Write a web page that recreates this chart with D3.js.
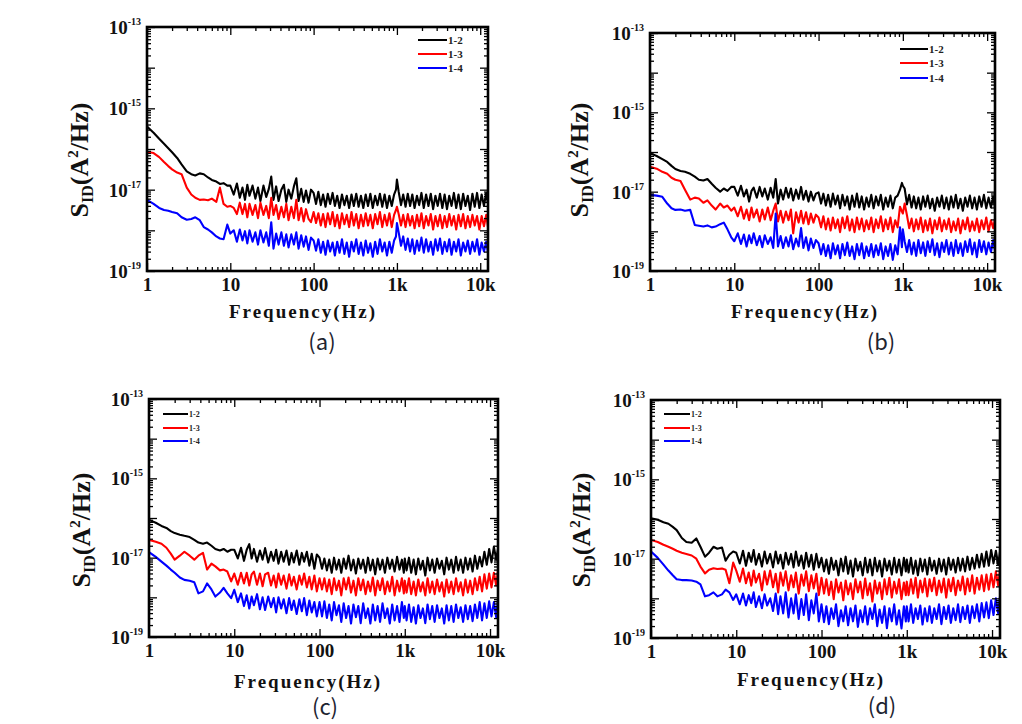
<!DOCTYPE html>
<html><head><meta charset="utf-8">
<script src="https://cdn.jsdelivr.net/npm/d3@7"></script>
<style>body{margin:0;background:#fff} svg{display:block}</style>
</head><body>
<svg id="chart" width="1022" height="724"></svg>
<script>
// ---------- DATA (values are log10 of S_ID in A^2/Hz) ----------
const freq = [1,1.2,1.4,1.6,1.8,2,2.3,2.6,3,3.4,3.8,4.3,4.8,5.4,6,6.8,7.5,8.3,9.2,
 10,11,12,13,14,15,16,17,18.5,20,21.5,23,25,27,29,31,33,35.5,38,41,44,47,50,54,58,62,66,71,76,81,87,93,
 100,107,114,122,130,139,148,158,169,180,192,205,219,234,250,267,285,304,325,347,370,395,422,450,480,513,548,585,625,667,712,760,812,867,925,975,
 1000,1050,1120,1190,1270,1350,1440,1530,1630,1740,1850,1970,2100,2240,2390,2550,2720,2900,3090,3290,3510,3740,3990,4250,4530,4830,5150,5490,5850,6240,6650,7090,7560,8060,8590,9160,9770,10400,11100,11800,12400];

const seriesNames = ["1-2","1-3","1-4"];
const seriesColors = ["#000000","#ff0000","#0000ff"];
const xTickValues = [1,10,100,1000,10000];
const xTickLabels = ["1","10","100","1k","10k"];
const yTickExponents = [-13,-15,-17,-19];
const panelLabels = ["(a)","(b)","(c)","(d)"];
const xTitle = "Frequency(Hz)";

// panel (a)
const a12 = [-15.45,-15.6,-15.75,-15.87,-15.98,-16.08,-16.22,-16.38,-16.55,-16.62,-16.65,-16.6,-16.62,-16.7,-16.76,-16.8,-16.86,-16.84,-16.9,
 -16.9,-17.12,-16.85,-17.2,-16.95,-17.25,-16.88,-17.15,-16.9,-17.22,-16.95,-17.28,-16.9,-17.18,-16.98,-16.68,-17.25,-16.92,-17.28,-17.0,-16.88,-17.3,-17.0,-17.22,-16.92,-16.72,-17.28,-16.98,-17.3,-17.02,-17.32,-17.0,
 -17.08,-17.35,-17.05,-17.38,-17.12,-17.42,-17.1,-17.35,-17.08,-17.4,-17.15,-17.45,-17.12,-17.38,-17.15,-17.45,-17.12,-17.4,-17.1,-17.42,-17.15,-17.45,-17.12,-17.4,-17.1,-17.45,-17.15,-17.38,-17.1,-17.42,-17.12,-17.45,-17.15,-17.4,-17.12,-17.0,
 -16.75,-17.05,-17.38,-17.12,-17.42,-17.1,-17.4,-17.12,-17.45,-17.15,-17.38,-17.08,-17.45,-17.12,-17.4,-17.1,-17.48,-17.15,-17.4,-17.1,-17.45,-17.12,-17.48,-17.15,-17.4,-17.08,-17.45,-17.12,-17.48,-17.1,-17.4,-17.15,-17.5,-17.1,-17.42,-17.08,-17.45,-17.12,-17.4,-17.08,-17.35];
const a13 = [-16.07,-16.1,-16.2,-16.32,-16.42,-16.5,-16.58,-16.62,-16.95,-17.12,-17.2,-17.25,-17.24,-17.26,-17.22,-17.3,-16.95,-17.35,-17.42,
 -17.4,-17.45,-17.6,-17.32,-17.6,-17.35,-17.68,-17.35,-17.62,-17.38,-17.7,-17.32,-17.62,-17.4,-17.7,-17.2,-17.62,-17.38,-17.72,-17.42,-17.68,-17.35,-17.75,-17.42,-17.7,-17.25,-17.75,-17.45,-17.78,-17.48,-17.72,-17.8,
 -17.55,-17.82,-17.58,-17.88,-17.6,-17.92,-17.58,-17.85,-17.55,-17.9,-17.62,-17.95,-17.58,-17.85,-17.62,-17.92,-17.55,-17.88,-17.6,-17.95,-17.62,-17.9,-17.58,-17.88,-17.62,-17.95,-17.6,-17.85,-17.55,-17.92,-17.62,-17.88,-17.58,-17.92,-17.62,-17.5,
 -17.42,-17.6,-17.88,-17.62,-17.92,-17.6,-17.88,-17.65,-17.95,-17.62,-17.9,-17.58,-17.95,-17.65,-17.88,-17.6,-17.98,-17.65,-17.9,-17.62,-17.95,-17.65,-17.92,-17.6,-17.88,-17.65,-17.98,-17.62,-17.9,-17.6,-17.95,-17.65,-17.92,-17.62,-17.88,-17.65,-17.98,-17.65,-17.9,-17.62,-17.92];
const a14 = [-17.25,-17.35,-17.45,-17.5,-17.52,-17.55,-17.58,-17.68,-17.74,-17.72,-17.68,-17.75,-17.92,-17.98,-18.05,-18.15,-18.2,-18.22,-17.86,
 -18.08,-18.0,-18.28,-17.98,-18.25,-18.02,-18.32,-18.0,-18.28,-18.05,-18.35,-18.0,-18.3,-18.05,-18.38,-17.8,-18.45,-18.08,-18.35,-18.05,-18.38,-18.1,-18.42,-18.1,-18.35,-18.05,-18.45,-18.12,-18.4,-18.15,-18.48,-18.18,
 -18.25,-18.5,-18.22,-18.55,-18.28,-18.6,-18.25,-18.52,-18.3,-18.62,-18.28,-18.55,-18.22,-18.58,-18.3,-18.65,-18.28,-18.52,-18.22,-18.58,-18.3,-18.62,-18.25,-18.55,-18.32,-18.65,-18.28,-18.58,-18.22,-18.52,-18.3,-18.62,-18.28,-18.55,-18.25,-18.15,
 -17.82,-18.05,-18.38,-18.15,-18.48,-18.2,-18.52,-18.22,-18.58,-18.25,-18.5,-18.18,-18.55,-18.22,-18.52,-18.28,-18.6,-18.22,-18.5,-18.2,-18.58,-18.28,-18.52,-18.22,-18.6,-18.28,-18.52,-18.22,-18.62,-18.3,-18.52,-18.25,-18.58,-18.28,-18.52,-18.22,-18.6,-18.3,-18.52,-18.28,-18.55];

// panel (b)
const b12 = [-16.03,-16.1,-16.18,-16.25,-16.35,-16.43,-16.48,-16.5,-16.55,-16.62,-16.7,-16.72,-16.68,-16.8,-16.9,-17.0,-16.92,-16.98,-16.88,
 -16.88,-17.1,-16.85,-17.12,-16.95,-17.25,-16.98,-16.9,-17.15,-16.88,-17.12,-16.92,-17.2,-16.9,-17.15,-16.68,-17.3,-16.95,-17.2,-16.9,-17.15,-16.92,-17.22,-16.95,-17.18,-16.88,-17.2,-16.98,-17.25,-17.0,-17.22,-17.05,
 -17.02,-17.3,-17.05,-17.35,-17.08,-17.38,-17.05,-17.32,-17.1,-17.42,-17.08,-17.35,-17.12,-17.45,-17.1,-17.38,-17.05,-17.4,-17.12,-17.45,-17.15,-17.38,-17.08,-17.42,-17.12,-17.35,-17.08,-17.45,-17.15,-17.38,-17.1,-17.42,-17.15,-17.1,-16.95,-16.78,
 -16.85,-16.92,-17.32,-17.08,-17.4,-17.12,-17.42,-17.15,-17.45,-17.12,-17.38,-17.1,-17.42,-17.18,-17.48,-17.15,-17.38,-17.1,-17.42,-17.15,-17.45,-17.12,-17.4,-17.08,-17.42,-17.18,-17.48,-17.15,-17.38,-17.1,-17.42,-17.15,-17.45,-17.12,-17.38,-17.08,-17.42,-17.15,-17.4,-17.12,-17.42];
const b13 = [-16.37,-16.42,-16.5,-16.55,-16.65,-16.7,-16.73,-16.95,-17.2,-17.15,-17.17,-17.28,-17.22,-17.35,-17.45,-17.3,-17.4,-17.35,-17.48,
 -17.4,-17.62,-17.38,-17.68,-17.45,-17.72,-17.4,-17.65,-17.45,-17.75,-17.45,-17.7,-17.4,-17.72,-17.48,-17.3,-17.75,-17.48,-17.78,-17.5,-17.72,-17.45,-18.05,-17.52,-17.78,-17.48,-17.8,-17.52,-17.82,-17.55,-17.78,-17.58,
 -17.65,-17.9,-17.62,-17.95,-17.68,-17.98,-17.65,-17.92,-17.7,-18.02,-17.65,-17.92,-17.62,-17.98,-17.7,-18.02,-17.65,-17.95,-17.68,-18.0,-17.72,-17.95,-17.65,-18.02,-17.7,-17.92,-17.62,-18.0,-17.7,-17.95,-17.65,-18.02,-17.72,-17.9,-17.38,-17.5,
 -17.55,-17.3,-17.6,-17.92,-17.68,-18.0,-17.7,-17.95,-17.65,-18.02,-17.72,-17.98,-17.68,-18.05,-17.72,-17.95,-17.65,-18.0,-17.72,-17.95,-17.68,-18.02,-17.75,-17.98,-17.68,-18.05,-17.72,-17.95,-17.65,-18.0,-17.75,-17.98,-17.68,-18.02,-17.72,-17.95,-17.65,-18.0,-17.72,-17.92,-17.68];
const b14 = [-17.08,-17.1,-17.13,-17.3,-17.42,-17.46,-17.45,-17.48,-17.46,-17.84,-17.86,-17.88,-17.85,-17.9,-17.88,-17.82,-17.78,-17.95,-18.15,
 -18.25,-18.05,-18.32,-18.08,-18.38,-18.1,-18.3,-18.05,-18.35,-18.12,-18.4,-18.1,-18.32,-18.15,-18.42,-17.55,-18.38,-18.12,-18.42,-18.15,-18.38,-18.1,-18.45,-18.18,-18.38,-17.92,-18.42,-18.15,-18.48,-18.18,-18.42,-18.22,
 -18.3,-18.58,-18.32,-18.62,-18.35,-18.68,-18.3,-18.58,-18.35,-18.68,-18.32,-18.6,-18.28,-18.62,-18.38,-18.7,-18.32,-18.6,-18.3,-18.68,-18.38,-18.62,-18.32,-18.65,-18.35,-18.6,-18.3,-18.7,-18.38,-18.62,-18.32,-18.72,-18.35,-18.58,-17.9,-18.4,
 -17.95,-18.25,-18.52,-18.22,-18.58,-18.28,-18.62,-18.22,-18.55,-18.28,-18.62,-18.25,-18.52,-18.2,-18.6,-18.3,-18.65,-18.28,-18.52,-18.22,-18.58,-18.28,-18.62,-18.22,-18.55,-18.3,-18.62,-18.25,-18.52,-18.2,-18.58,-18.28,-18.65,-18.22,-18.52,-18.25,-18.58,-18.28,-18.52,-18.22,-18.48];

// panel (c)
const c12 = [-16.05,-16.12,-16.2,-16.25,-16.33,-16.38,-16.42,-16.45,-16.48,-16.55,-16.62,-16.65,-16.62,-16.7,-16.78,-16.82,-16.78,-16.85,-16.8,
 -16.8,-17.02,-16.75,-17.08,-16.8,-16.66,-17.02,-16.78,-17.1,-16.82,-17.05,-16.76,-17.12,-16.85,-17.08,-16.8,-17.15,-16.85,-17.1,-16.82,-17.18,-16.88,-17.12,-16.82,-17.18,-16.88,-17.1,-16.85,-17.2,-16.9,-17.28,-16.92,
 -17.0,-17.28,-17.02,-17.32,-17.05,-17.38,-17.0,-17.3,-17.05,-17.38,-17.02,-17.28,-16.95,-17.32,-17.05,-17.4,-17.02,-17.28,-17.05,-17.38,-17.0,-17.32,-17.05,-17.42,-17.02,-17.3,-17.05,-17.38,-17.0,-17.28,-17.05,-17.35,-16.98,-17.3,-17.05,-17.38,
 -17.02,-17.32,-17.0,-17.38,-17.05,-17.42,-17.02,-17.3,-17.08,-17.45,-17.0,-17.32,-17.05,-17.38,-17.02,-17.28,-17.08,-17.42,-17.0,-17.3,-17.05,-17.38,-16.98,-17.32,-17.05,-17.38,-17.0,-17.3,-17.02,-17.35,-16.95,-17.28,-16.98,-17.22,-16.85,-17.18,-16.78,-17.12,-16.72,-17.05,-16.78];
const c13 = [-16.55,-16.6,-16.65,-16.75,-16.9,-17.05,-16.95,-16.85,-16.95,-17.05,-16.95,-16.88,-17.3,-17.15,-17.22,-17.32,-17.3,-17.35,-17.6,
 -17.4,-17.68,-17.38,-17.65,-17.38,-17.7,-17.42,-17.35,-17.68,-17.4,-17.72,-17.42,-17.38,-17.7,-17.45,-17.75,-17.4,-17.68,-17.45,-17.78,-17.42,-17.7,-17.48,-17.8,-17.45,-17.68,-17.4,-17.75,-17.48,-17.8,-17.45,-17.85,
 -17.52,-17.8,-17.52,-17.85,-17.55,-17.92,-17.52,-17.82,-17.58,-17.95,-17.52,-17.8,-17.5,-17.88,-17.58,-17.95,-17.52,-17.82,-17.55,-17.92,-17.6,-17.85,-17.5,-17.95,-17.58,-17.82,-17.52,-17.92,-17.6,-17.85,-17.48,-17.95,-17.58,-17.85,-17.52,-17.9,
 -17.58,-17.88,-17.52,-17.92,-17.6,-17.95,-17.55,-17.85,-17.62,-17.95,-17.52,-17.88,-17.6,-17.92,-17.55,-17.85,-17.62,-17.98,-17.55,-17.88,-17.6,-17.92,-17.52,-17.85,-17.62,-17.95,-17.55,-17.88,-17.58,-17.92,-17.52,-17.82,-17.48,-17.85,-17.42,-17.78,-17.4,-17.75,-17.38,-17.7,-17.32];
const c14 = [-16.86,-16.98,-17.1,-17.2,-17.3,-17.38,-17.5,-17.56,-17.58,-17.62,-17.9,-17.85,-17.65,-17.8,-17.98,-17.88,-17.76,-17.9,-18.02,
 -17.81,-18.12,-17.9,-18.22,-17.95,-18.28,-17.98,-18.2,-17.92,-18.3,-18.0,-18.32,-17.98,-18.25,-18.02,-18.38,-18.0,-18.28,-18.05,-18.4,-18.02,-18.32,-18.08,-18.42,-18.05,-18.35,-18.02,-18.45,-18.08,-18.38,-18.12,-18.48,
 -18.12,-18.48,-18.1,-18.52,-18.18,-18.58,-18.12,-18.45,-18.2,-18.62,-18.15,-18.52,-18.22,-18.66,-18.18,-18.5,-18.22,-18.65,-18.15,-18.52,-18.28,-18.66,-18.18,-18.58,-18.22,-18.62,-18.15,-18.52,-18.28,-18.66,-18.18,-18.58,-18.22,-18.62,-18.12,-18.52,
 -18.22,-18.58,-18.18,-18.62,-18.25,-18.66,-18.2,-18.52,-18.28,-18.65,-18.18,-18.55,-18.22,-18.62,-18.2,-18.52,-18.28,-18.66,-18.2,-18.58,-18.22,-18.62,-18.18,-18.52,-18.25,-18.62,-18.2,-18.55,-18.22,-18.6,-18.18,-18.52,-18.12,-18.58,-18.15,-18.52,-18.1,-18.48,-18.12,-18.5,-18.05];

// panel (d)
const d12 = [-15.98,-16.02,-16.08,-16.12,-16.2,-16.28,-16.48,-16.58,-16.6,-16.49,-16.7,-16.95,-16.85,-16.7,-16.75,-16.72,-17.05,-16.9,-16.82,
 -16.85,-17.12,-16.8,-17.18,-16.85,-17.08,-16.78,-17.15,-16.88,-17.2,-16.82,-17.12,-16.88,-17.22,-16.82,-17.12,-16.9,-17.25,-16.85,-17.15,-16.88,-17.22,-16.82,-17.18,-16.92,-17.25,-16.85,-17.2,-16.9,-17.28,-16.88,-17.22,
 -16.98,-17.32,-17.02,-17.38,-16.98,-17.28,-17.05,-17.42,-17.0,-17.32,-16.95,-17.38,-17.05,-17.45,-17.0,-17.3,-17.08,-17.42,-16.98,-17.35,-17.02,-17.42,-16.98,-17.32,-17.05,-17.45,-17.0,-17.3,-17.05,-17.4,-16.98,-17.35,-17.02,-17.42,-16.98,-17.32,
 -17.02,-17.35,-16.98,-17.38,-17.05,-17.42,-17.0,-17.32,-17.02,-17.4,-16.98,-17.3,-17.05,-17.38,-17.0,-17.32,-17.02,-17.4,-16.98,-17.28,-17.02,-17.35,-16.98,-17.3,-17.0,-17.32,-16.95,-17.28,-16.98,-17.25,-16.9,-17.22,-16.88,-17.2,-16.82,-17.18,-16.78,-17.12,-16.8,-17.15,-16.82];
const d13 = [-16.53,-16.58,-16.65,-16.7,-16.75,-16.8,-16.85,-16.88,-16.92,-17.0,-17.2,-17.37,-17.28,-17.24,-17.26,-17.25,-17.28,-17.62,-17.1,
 -17.3,-17.58,-17.25,-17.62,-17.35,-17.68,-17.3,-17.6,-17.38,-17.8,-17.32,-17.65,-17.3,-17.72,-17.38,-17.85,-17.35,-17.68,-17.32,-17.8,-17.42,-17.72,-17.35,-17.88,-17.4,-17.68,-17.32,-17.82,-17.42,-17.75,-17.38,-17.92,
 -17.48,-17.88,-17.52,-17.92,-17.58,-18.02,-17.52,-17.85,-17.6,-18.05,-17.55,-17.9,-17.62,-18.02,-17.52,-17.85,-17.58,-18.0,-17.5,-17.92,-17.62,-18.08,-17.55,-17.88,-17.6,-18.02,-17.52,-17.9,-17.48,-17.98,-17.58,-17.88,-17.52,-18.02,-17.6,-17.92,
 -17.58,-17.92,-17.52,-17.88,-17.48,-17.98,-17.55,-17.85,-17.5,-17.95,-17.52,-17.82,-17.48,-17.92,-17.55,-17.85,-17.5,-17.98,-17.52,-17.82,-17.48,-17.92,-17.55,-17.8,-17.45,-17.9,-17.5,-17.82,-17.42,-17.88,-17.48,-17.78,-17.42,-17.82,-17.4,-17.78,-17.38,-17.72,-17.32,-17.68,-17.28];
const d14 = [-16.82,-16.98,-17.15,-17.3,-17.42,-17.52,-17.54,-17.54,-17.55,-17.58,-17.65,-17.95,-17.92,-17.85,-17.95,-17.9,-17.78,-17.85,-18.04,
 -17.9,-18.15,-17.88,-18.18,-17.92,-18.12,-17.85,-18.22,-17.95,-18.25,-17.9,-18.18,-18.0,-18.32,-17.88,-18.4,-17.95,-18.38,-17.85,-18.48,-18.0,-18.38,-17.9,-18.52,-18.02,-18.42,-17.9,-18.55,-18.05,-18.38,-17.88,-18.58,
 -18.15,-18.6,-18.2,-18.65,-18.25,-18.52,-18.15,-18.7,-18.3,-18.58,-18.2,-18.68,-18.25,-18.58,-18.18,-18.72,-18.3,-18.6,-18.2,-18.66,-18.25,-18.52,-18.15,-18.7,-18.28,-18.62,-18.2,-18.75,-18.25,-18.58,-18.15,-18.66,-18.3,-18.76,-18.2,-18.58,
 -18.2,-18.58,-18.15,-18.62,-18.25,-18.52,-18.18,-18.66,-18.25,-18.58,-18.2,-18.62,-18.25,-18.52,-18.15,-18.65,-18.22,-18.52,-18.18,-18.62,-18.25,-18.55,-18.15,-18.6,-18.22,-18.52,-18.18,-18.62,-18.2,-18.5,-18.15,-18.58,-18.12,-18.48,-18.1,-18.5,-18.05,-18.42,-18.0,-18.38,-17.95];

const panelSeries = [[a12,a13,a14],[b12,b13,b14],[c12,c13,c14],[d12,d13,d14]];

// ---------- LAYOUT ----------
const layout = [
  {L:147,T:27,R:488,B:271, leg:{x1:418,x2:447,y:[40,54,68],fs:11}, yt:{x:88,y:160}, xt:{x:303,y:318}, lab:{x:322,y:350}},
  {L:650,T:33,R:995,B:271, leg:{x1:900,x2:928,y:[49,63,78],fs:11}, yt:{x:588,y:160}, xt:{x:805,y:318}, lab:{x:881,y:350}},
  {L:149,T:399,R:498,B:637, leg:{x1:163,x2:188,y:[414,428,441],fs:8}, yt:{x:90,y:530}, xt:{x:308,y:688}, lab:{x:325,y:715}},
  {L:651,T:400,R:1000,B:638, leg:{x1:664,x2:690,y:[414,428,441],fs:8}, yt:{x:590,y:530}, xt:{x:811,y:686}, lab:{x:882,y:714}}
];
const xDomain = [1, 12400];
const yDomain = [1e-19, 1e-13];
const serif = "'Liberation Serif','Times New Roman',serif";

const svg = d3.select("#chart");
const minorX = [];
for (let d = 0; d <= 4; d++) for (let m = 2; m <= 9; m++) { const v = m * Math.pow(10, d); if (v <= xDomain[1]) minorX.push(v); }
const majorY = d3.range(-19, -12).map(e => Math.pow(10, e));
const minorY = [];
for (let e = -19; e < -13; e++) for (let m = 2; m <= 9; m++) minorY.push(m * Math.pow(10, e));

layout.forEach((p, i) => {
  const x = d3.scaleLog().domain(xDomain).range([p.L, p.R]);
  const y = d3.scaleLog().domain(yDomain).range([p.B, p.T]);
  const g = svg.append("g");
  const clipId = "clip" + i;
  g.append("clipPath").attr("id", clipId).append("rect")
    .attr("x", p.L).attr("y", p.T).attr("width", p.R - p.L).attr("height", p.B - p.T);

  const line = d3.line().x(d => x(d[0])).y(d => y(d[1]));
  panelSeries[i].forEach((s, j) => {
    const pts = freq.map((f, k) => [f, Math.pow(10, s[k])]).filter(d => isFinite(d[1]));
    g.append("path").attr("d", line(pts)).attr("fill", "none")
      .attr("stroke", seriesColors[j]).attr("stroke-width", 2.1)
      .attr("stroke-linejoin", "round").attr("clip-path", `url(#${clipId})`);
  });

  const styleAxis = sel => { sel.select(".domain").remove(); sel.selectAll("line").attr("stroke", "#000").attr("stroke-width", 1.3); };
  g.append("g").attr("transform", `translate(0,${p.B})`)
    .call(d3.axisBottom(x).tickValues(minorX).tickSize(-4).tickFormat("")).call(styleAxis);
  g.append("g").attr("transform", `translate(0,${p.T})`)
    .call(d3.axisTop(x).tickValues(minorX).tickSize(-4).tickFormat("")).call(styleAxis);
  g.append("g").attr("transform", `translate(0,${p.T})`)
    .call(d3.axisTop(x).tickValues(xTickValues).tickSize(-8).tickFormat("")).call(styleAxis);
  const xb = g.append("g").attr("transform", `translate(0,${p.B})`)
    .call(d3.axisBottom(x).tickValues(xTickValues).tickSize(-8).tickPadding(20)
      .tickFormat((d, k) => xTickLabels[k])).call(styleAxis);
  xb.selectAll("text").attr("font-family", serif).attr("font-weight", "bold")
    .attr("font-size", 19).attr("fill", "#111").attr("dy", 0);

  g.append("g").attr("transform", `translate(${p.L},0)`)
    .call(d3.axisLeft(y).tickValues(minorY).tickSize(-4).tickFormat("")).call(styleAxis);
  g.append("g").attr("transform", `translate(${p.L},0)`)
    .call(d3.axisLeft(y).tickValues(majorY).tickSize(-8).tickFormat("")).call(styleAxis);
  g.append("g").attr("transform", `translate(${p.R},0)`)
    .call(d3.axisRight(y).tickValues(minorY).tickSize(-4).tickFormat("")).call(styleAxis);
  g.append("g").attr("transform", `translate(${p.R},0)`)
    .call(d3.axisRight(y).tickValues(majorY).tickSize(-8).tickFormat("")).call(styleAxis);

  yTickExponents.forEach(e => {
    const t = g.append("text").attr("x", p.L - 6).attr("y", y(Math.pow(10, e)) + 7)
      .attr("text-anchor", "end").attr("font-family", serif).attr("font-weight", "bold").attr("fill", "#111");
    t.append("tspan").attr("font-size", 19).text("10");
    t.append("tspan").attr("font-size", 10).attr("dy", -9).text(String(e));
  });

  g.append("rect").attr("x", p.L).attr("y", p.T).attr("width", p.R - p.L).attr("height", p.B - p.T)
    .attr("fill", "none").attr("stroke", "#000").attr("stroke-width", 2.6);

  seriesNames.forEach((n, j) => {
    g.append("line").attr("x1", p.leg.x1).attr("x2", p.leg.x2).attr("y1", p.leg.y[j]).attr("y2", p.leg.y[j])
      .attr("stroke", seriesColors[j]).attr("stroke-width", 2);
    g.append("text").attr("x", p.leg.x2 + 1).attr("y", p.leg.y[j] + p.leg.fs * 0.35)
      .attr("font-family", serif).attr("font-weight", "bold").attr("font-size", p.leg.fs).attr("fill", "#222").text(n);
  });

  const yt = g.append("text").attr("transform", `translate(${p.yt.x},${p.yt.y}) rotate(-90)`)
    .attr("text-anchor", "middle").attr("font-family", serif).attr("font-weight", "bold")
    .attr("font-size", 26).attr("fill", "#111");
  yt.append("tspan").text("S");
  yt.append("tspan").attr("font-size", 16).attr("dy", 5).text("ID");
  yt.append("tspan").attr("dy", -5).text("(A");
  yt.append("tspan").attr("font-size", 15).attr("dy", -10).text("2");
  yt.append("tspan").attr("dy", 10).text("/Hz)");

  g.append("text").attr("x", p.xt.x).attr("y", p.xt.y).attr("text-anchor", "middle")
    .attr("font-family", serif).attr("font-weight", "bold").attr("font-size", 19)
    .attr("letter-spacing", 2).attr("fill", "#111").text(xTitle);

  g.append("text").attr("x", p.lab.x).attr("y", p.lab.y).attr("text-anchor", "middle")
    .attr("font-family", "'Noto Sans CJK KR','Noto Sans',sans-serif").attr("font-size", 22)
    .attr("fill", "#1e2430").text(panelLabels[i]);
});
</script>
</body></html>
